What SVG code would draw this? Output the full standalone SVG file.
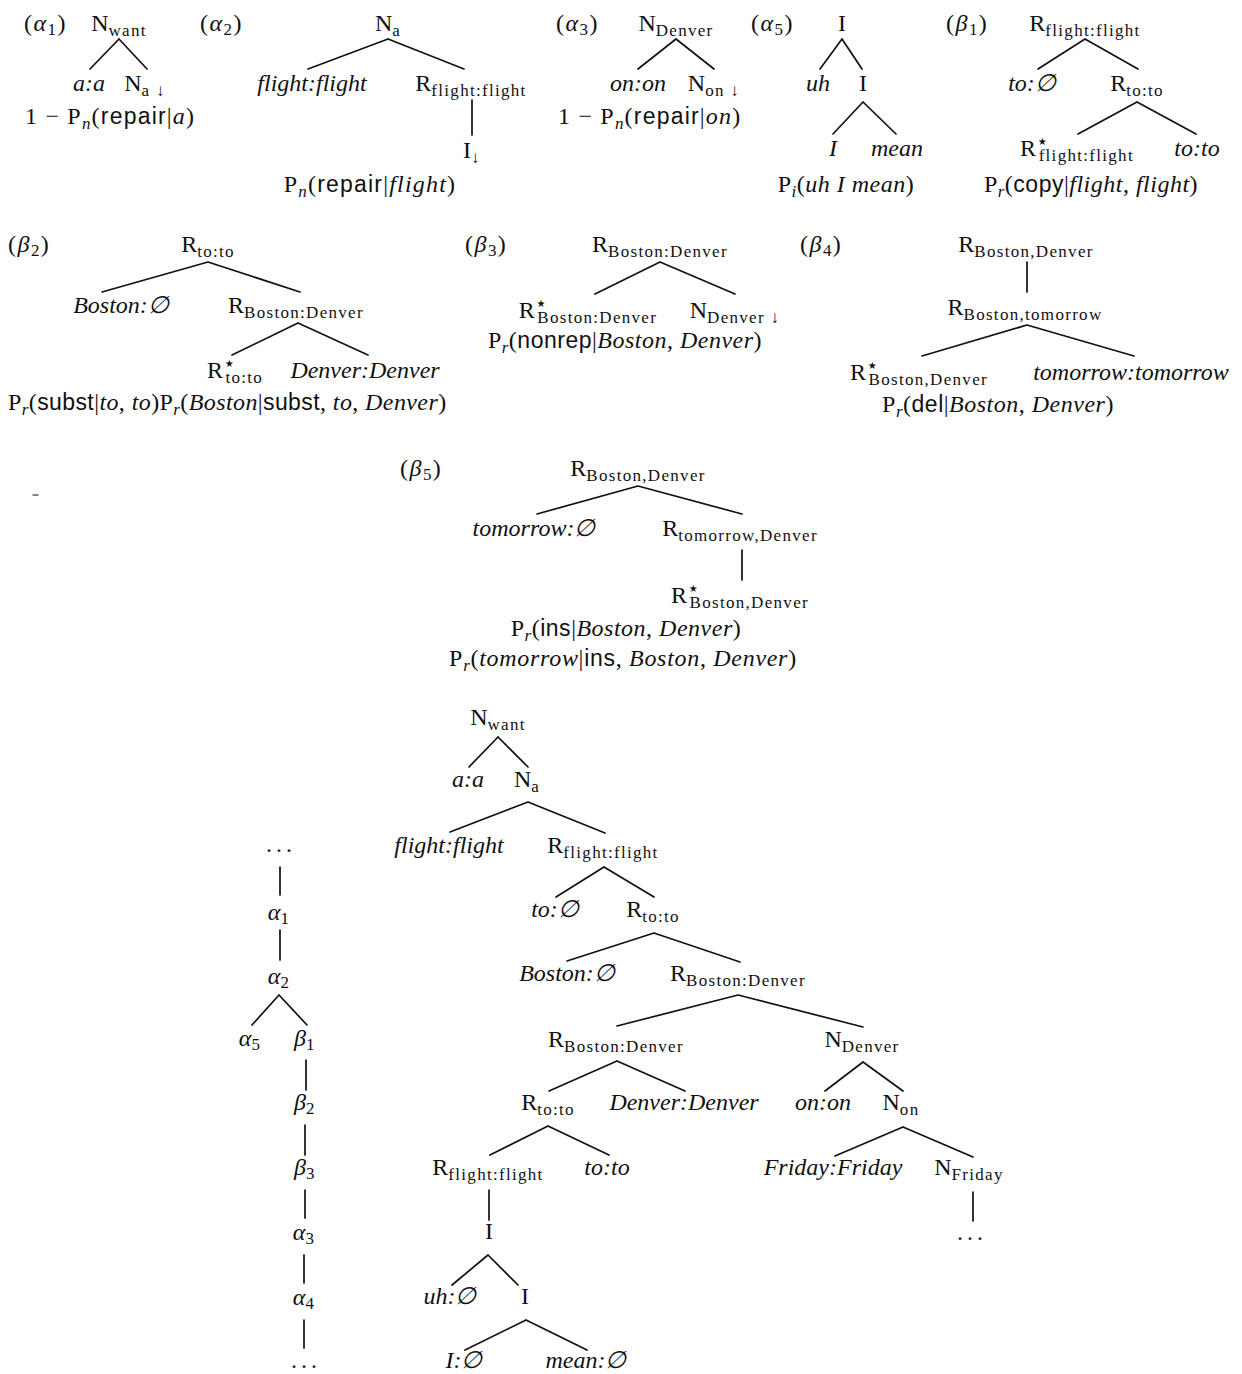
<svg xmlns="http://www.w3.org/2000/svg" width="1242" height="1374" viewBox="0 0 1242 1374">
<style>
text { font-family:"Liberation Serif","DejaVu Serif",serif; font-size:24px; fill:#111; }
.m { text-anchor:middle; }
.i { font-style:italic; }
.s { font-family:"Liberation Sans","DejaVu Sans",sans-serif; font-size:23px; font-style:normal; }
.b { font-size:17px; letter-spacing:1.3px; font-style:normal; }
.bi { font-size:17px; font-style:italic; }
.st { font-family:"DejaVu Sans",sans-serif; font-size:20px; font-style:normal; letter-spacing:0; }
.lb { letter-spacing:1.5px; }
.f1 { letter-spacing:1.2px; }
.f2 { letter-spacing:0.5px; }
#connectors path { stroke:#111; stroke-width:1.7; fill:none; stroke-linecap:round; }
</style>
<rect width="1242" height="1374" fill="#fff"/>

<g id="connectors">
  <path d="M119,39 L90,69 M119,39 L147,69"/>
  <path d="M388,39 L308,69 M388,39 L464,69 M472,100 L472,135"/>
  <path d="M676,39 L638,69 M676,39 L714,69"/>
  <path d="M842,39 L820,69 M842,39 L862,69 M863,102 L833,134 M863,102 L896,134"/>
  <path d="M1085,39 L1038,69 M1085,39 L1138,69 M1137,102 L1078,134 M1137,102 L1196,134"/>
  <path d="M208,262 L102,292 M208,262 L300,292 M298,323 L232,355 M298,323 L368,355"/>
  <path d="M660,262 L595,294 M660,262 L735,294"/>
  <path d="M1027,262 L1027,292 M1027,325 L922,356 M1027,325 L1134,356"/>
  <path d="M638,486 L537,514 M638,486 L742,514 M742,550 L742,580"/>
  <path d="M33,495 L38,495" style="stroke-width:1.2"/>
  <path d="M498,737 L469,767 M498,737 L528,767"/>
  <path d="M528,802 L450,832 M528,802 L605,833"/>
  <path d="M604,867 L556,897 M604,867 L654,897"/>
  <path d="M654,933 L567,961 M654,933 L740,962"/>
  <path d="M738,995 L617,1026 M738,995 L863,1027"/>
  <path d="M617,1061 L549,1091 M617,1061 L685,1091"/>
  <path d="M863,1062 L825,1091 M863,1062 L903,1091"/>
  <path d="M548,1126 L490,1155 M548,1126 L609,1155"/>
  <path d="M903,1127 L835,1156 M903,1127 L973,1157"/>
  <path d="M973,1192 L973,1221"/>
  <path d="M489,1190 L489,1220"/>
  <path d="M488,1255 L452,1285 M488,1255 L518,1285"/>
  <path d="M526,1320 L465,1350 M526,1320 L587,1350"/>
  <path d="M280,867 L280,895 M280,930 L280,960"/>
  <path d="M279,995 L252,1025 M279,995 L307,1025"/>
  <path d="M306,1060 L306,1090 M305,1125 L305,1155 M305,1190 L305,1218 M304,1255 L304,1283 M304,1320 L304,1348"/>
</g>

<g id="alpha1">
  <g id="a1-label"><text class="lb" x="24" y="31">(<tspan class="i">α</tspan><tspan class="b" dy="4">1</tspan><tspan dy="-4">)</tspan></text></g>
  <g id="a1-root"><text class="m" x="119" y="31">N<tspan class="b" dy="5">want</tspan></text></g>
  <g id="a1-aa"><text class="m i" x="89" y="91">a:a</text></g>
  <g id="a1-na"><text class="m" x="145" y="91">N<tspan class="b" dy="5">a ↓</tspan></text></g>
  <g id="a1-prob"><text class="f1" x="25" y="124">1 − P<tspan class="bi" dy="5">n</tspan><tspan dy="-5">(</tspan><tspan class="s">repair</tspan>|<tspan class="i">a</tspan>)</text></g>
</g>

<g id="alpha2">
  <g id="a2-label"><text class="lb" x="200" y="31">(<tspan class="i">α</tspan><tspan class="b" dy="4">2</tspan><tspan dy="-4">)</tspan></text></g>
  <g id="a2-root"><text class="m" x="388" y="31">N<tspan class="b" dy="5">a</tspan></text></g>
  <g id="a2-ff"><text class="m i" x="312" y="91">flight:flight</text></g>
  <g id="a2-r"><text class="m" x="471" y="91">R<tspan class="b" dy="5">flight:flight</tspan></text></g>
  <g id="a2-i"><text class="m" x="472" y="158">I<tspan class="b" dy="5">↓</tspan></text></g>
  <g id="a2-prob"><text class="m f1" x="370" y="192">P<tspan class="bi" dy="5">n</tspan><tspan dy="-5">(</tspan><tspan class="s">repair</tspan>|<tspan class="i">flight</tspan>)</text></g>
</g>

<g id="alpha3">
  <g id="a3-label"><text class="lb" x="556" y="31">(<tspan class="i">α</tspan><tspan class="b" dy="4">3</tspan><tspan dy="-4">)</tspan></text></g>
  <g id="a3-root"><text class="m" x="676" y="31">N<tspan class="b" dy="5">Denver</tspan></text></g>
  <g id="a3-onon"><text class="m i" x="638" y="91">on:on</text></g>
  <g id="a3-non"><text class="m" x="714" y="91">N<tspan class="b" dy="5">on ↓</tspan></text></g>
  <g id="a3-prob"><text class="f1" x="558" y="124">1 − P<tspan class="bi" dy="5">n</tspan><tspan dy="-5">(</tspan><tspan class="s">repair</tspan>|<tspan class="i">on</tspan>)</text></g>
</g>

<g id="alpha5">
  <g id="a5-label"><text class="lb" x="751" y="31">(<tspan class="i">α</tspan><tspan class="b" dy="4">5</tspan><tspan dy="-4">)</tspan></text></g>
  <g id="a5-root"><text class="m" x="842" y="31">I</text></g>
  <g id="a5-uh"><text class="m i" x="818" y="91">uh</text></g>
  <g id="a5-i"><text class="m" x="863" y="91">I</text></g>
  <g id="a5-ii"><text class="m i" x="833" y="156">I</text></g>
  <g id="a5-mean"><text class="m i" x="897" y="156">mean</text></g>
  <g id="a5-prob"><text class="m f2" x="846" y="192">P<tspan class="bi" dy="5">i</tspan><tspan dy="-5">(</tspan><tspan class="i">uh I mean</tspan>)</text></g>
</g>

<g id="beta1">
  <g id="b1-label"><text class="lb" x="946" y="31">(<tspan class="i">β</tspan><tspan class="b" dy="4">1</tspan><tspan dy="-4">)</tspan></text></g>
  <g id="b1-root"><text class="m" x="1085" y="31">R<tspan class="b" dy="5">flight:flight</tspan></text></g>
  <g id="b1-to"><text class="m i" x="1032" y="91">to:∅</text></g>
  <g id="b1-rto"><text class="m" x="1137" y="91">R<tspan class="b" dy="5">to:to</tspan></text></g>
  <g id="b1-rstar"><text class="m" x="1077" y="156">R<tspan class="st" dy="-8">⋆</tspan><tspan class="b" dx="-10" dy="13">flight:flight</tspan></text></g>
  <g id="b1-toto"><text class="m i" x="1197" y="156">to:to</text></g>
  <g id="b1-prob"><text class="m f2" x="1091" y="192">P<tspan class="bi" dy="5">r</tspan><tspan dy="-5">(</tspan><tspan class="s">copy</tspan>|<tspan class="i">flight</tspan>, <tspan class="i">flight</tspan>)</text></g>
</g>

<g id="beta2">
  <g id="b2-label"><text class="lb" x="8" y="252">(<tspan class="i">β</tspan><tspan class="b" dy="4">2</tspan><tspan dy="-4">)</tspan></text></g>
  <g id="b2-root"><text class="m" x="208" y="252">R<tspan class="b" dy="5">to:to</tspan></text></g>
  <g id="b2-boston"><text class="m i" x="121" y="313">Boston:∅</text></g>
  <g id="b2-rbd"><text class="m" x="296" y="313">R<tspan class="b" dy="5">Boston:Denver</tspan></text></g>
  <g id="b2-rstar"><text class="m" x="235" y="378">R<tspan class="st" dy="-8">⋆</tspan><tspan class="b" dx="-10" dy="13">to:to</tspan></text></g>
  <g id="b2-dd"><text class="m i" x="365" y="378">Denver:Denver</text></g>
  <g id="b2-prob"><text x="8" y="410" style="letter-spacing:0.4px">P<tspan class="bi" dy="5">r</tspan><tspan dy="-5">(</tspan><tspan class="s">subst</tspan>|<tspan class="i">to</tspan>, <tspan class="i">to</tspan>)P<tspan class="bi" dy="5">r</tspan><tspan dy="-5">(</tspan><tspan class="i">Boston</tspan>|<tspan class="s">subst</tspan>, <tspan class="i">to</tspan>, <tspan class="i">Denver</tspan>)</text></g>
</g>

<g id="beta3">
  <g id="b3-label"><text class="lb" x="465" y="252">(<tspan class="i">β</tspan><tspan class="b" dy="4">3</tspan><tspan dy="-4">)</tspan></text></g>
  <g id="b3-root"><text class="m" x="660" y="252">R<tspan class="b" dy="5">Boston:Denver</tspan></text></g>
  <g id="b3-rstar"><text class="m" x="588" y="318">R<tspan class="st" dy="-8">⋆</tspan><tspan class="b" dx="-10" dy="13">Boston:Denver</tspan></text></g>
  <g id="b3-nd"><text class="m" x="735" y="318">N<tspan class="b" dy="5">Denver ↓</tspan></text></g>
  <g id="b3-prob"><text class="m f2" x="625" y="348">P<tspan class="bi" dy="5">r</tspan><tspan dy="-5">(</tspan><tspan class="s">nonrep</tspan>|<tspan class="i">Boston</tspan>, <tspan class="i">Denver</tspan>)</text></g>
</g>

<g id="beta4">
  <g id="b4-label"><text class="lb" x="800" y="252">(<tspan class="i">β</tspan><tspan class="b" dy="4">4</tspan><tspan dy="-4">)</tspan></text></g>
  <g id="b4-root"><text class="m" x="1026" y="252">R<tspan class="b" dy="5">Boston,Denver</tspan></text></g>
  <g id="b4-rbt"><text class="m" x="1025" y="315">R<tspan class="b" dy="5">Boston,tomorrow</tspan></text></g>
  <g id="b4-rstar"><text class="m" x="919" y="380">R<tspan class="st" dy="-8">⋆</tspan><tspan class="b" dx="-10" dy="13">Boston,Denver</tspan></text></g>
  <g id="b4-tt"><text class="m i" x="1131" y="380">tomorrow:tomorrow</text></g>
  <g id="b4-prob"><text class="m f2" x="998" y="412">P<tspan class="bi" dy="5">r</tspan><tspan dy="-5">(</tspan><tspan class="s">del</tspan>|<tspan class="i">Boston</tspan>, <tspan class="i">Denver</tspan>)</text></g>
</g>

<g id="beta5">
  <g id="b5-label"><text class="lb" x="400" y="476">(<tspan class="i">β</tspan><tspan class="b" dy="4">5</tspan><tspan dy="-4">)</tspan></text></g>
  <g id="b5-root"><text class="m" x="638" y="476">R<tspan class="b" dy="5">Boston,Denver</tspan></text></g>
  <g id="b5-tom"><text class="m i" x="534" y="536">tomorrow:∅</text></g>
  <g id="b5-rtd"><text class="m" x="740" y="536">R<tspan class="b" dy="5">tomorrow,Denver</tspan></text></g>
  <g id="b5-rstar"><text class="m" x="740" y="603">R<tspan class="st" dy="-8">⋆</tspan><tspan class="b" dx="-10" dy="13">Boston,Denver</tspan></text></g>
  <g id="b5-prob1"><text class="m f2" x="626" y="636">P<tspan class="bi" dy="5">r</tspan><tspan dy="-5">(</tspan><tspan class="s">ins</tspan>|<tspan class="i">Boston</tspan>, <tspan class="i">Denver</tspan>)</text></g>
  <g id="b5-prob2"><text class="m" x="623" y="666" style="letter-spacing:0.7px">P<tspan class="bi" dy="5">r</tspan><tspan dy="-5">(</tspan><tspan class="i">tomorrow</tspan>|<tspan class="s">ins</tspan>, <tspan class="i">Boston</tspan>, <tspan class="i">Denver</tspan>)</text></g>
</g>

<g id="derived">
  <g id="d-nwant"><text class="m" x="498" y="725">N<tspan class="b" dy="5">want</tspan></text></g>
  <g id="d-aa"><text class="m i" x="468" y="787">a:a</text></g>
  <g id="d-na"><text class="m" x="527" y="787">N<tspan class="b" dy="5">a</tspan></text></g>
  <g id="d-ff"><text class="m i" x="449" y="853">flight:flight</text></g>
  <g id="d-rff"><text class="m" x="603" y="853">R<tspan class="b" dy="5">flight:flight</tspan></text></g>
  <g id="d-to"><text class="m i" x="555" y="917">to:∅</text></g>
  <g id="d-rto"><text class="m" x="653" y="917">R<tspan class="b" dy="5">to:to</tspan></text></g>
  <g id="d-boston"><text class="m i" x="567" y="981">Boston:∅</text></g>
  <g id="d-rbd"><text class="m" x="738" y="981">R<tspan class="b" dy="5">Boston:Denver</tspan></text></g>
  <g id="d-rbd2"><text class="m" x="616" y="1047">R<tspan class="b" dy="5">Boston:Denver</tspan></text></g>
  <g id="d-nden"><text class="m" x="862" y="1047">N<tspan class="b" dy="5">Denver</tspan></text></g>
  <g id="d-rto2"><text class="m" x="548" y="1110">R<tspan class="b" dy="5">to:to</tspan></text></g>
  <g id="d-dd"><text class="m i" x="684" y="1110">Denver:Denver</text></g>
  <g id="d-onon"><text class="m i" x="823" y="1110">on:on</text></g>
  <g id="d-non"><text class="m" x="901" y="1110">N<tspan class="b" dy="5">on</tspan></text></g>
  <g id="d-rff2"><text class="m" x="488" y="1175">R<tspan class="b" dy="5">flight:flight</tspan></text></g>
  <g id="d-toto"><text class="m i" x="607" y="1175">to:to</text></g>
  <g id="d-fri"><text class="m i" x="833" y="1175">Friday:Friday</text></g>
  <g id="d-nfri"><text class="m" x="969" y="1175">N<tspan class="b" dy="5">Friday</tspan></text></g>
  <g id="d-dots"><text class="m" x="972" y="1240" style="letter-spacing:4px">...</text></g>
  <g id="d-i"><text class="m" x="489" y="1239">I</text></g>
  <g id="d-uh"><text class="m i" x="450" y="1304">uh:∅</text></g>
  <g id="d-i2"><text class="m" x="525" y="1304">I</text></g>
  <g id="d-ie"><text class="m i" x="464" y="1368">I:∅</text></g>
  <g id="d-mean"><text class="m i" x="586" y="1368">mean:∅</text></g>
</g>

<g id="derivation">
  <g id="v-dots1"><text class="m" x="281" y="852" style="letter-spacing:4px">...</text></g>
  <g id="v-a1"><text class="m" x="279" y="920"><tspan class="i">α</tspan><tspan class="b" dy="4">1</tspan></text></g>
  <g id="v-a2"><text class="m" x="279" y="984"><tspan class="i">α</tspan><tspan class="b" dy="4">2</tspan></text></g>
  <g id="v-a5"><text class="m" x="250" y="1046"><tspan class="i">α</tspan><tspan class="b" dy="4">5</tspan></text></g>
  <g id="v-b1"><text class="m" x="305" y="1046"><tspan class="i">β</tspan><tspan class="b" dy="4">1</tspan></text></g>
  <g id="v-b2"><text class="m" x="305" y="1110"><tspan class="i">β</tspan><tspan class="b" dy="4">2</tspan></text></g>
  <g id="v-b3"><text class="m" x="305" y="1175"><tspan class="i">β</tspan><tspan class="b" dy="4">3</tspan></text></g>
  <g id="v-a3"><text class="m" x="304" y="1240"><tspan class="i">α</tspan><tspan class="b" dy="4">3</tspan></text></g>
  <g id="v-a4"><text class="m" x="304" y="1305"><tspan class="i">α</tspan><tspan class="b" dy="4">4</tspan></text></g>
  <g id="v-dots2"><text class="m" x="306" y="1368" style="letter-spacing:4px">...</text></g>
</g>
</svg>
